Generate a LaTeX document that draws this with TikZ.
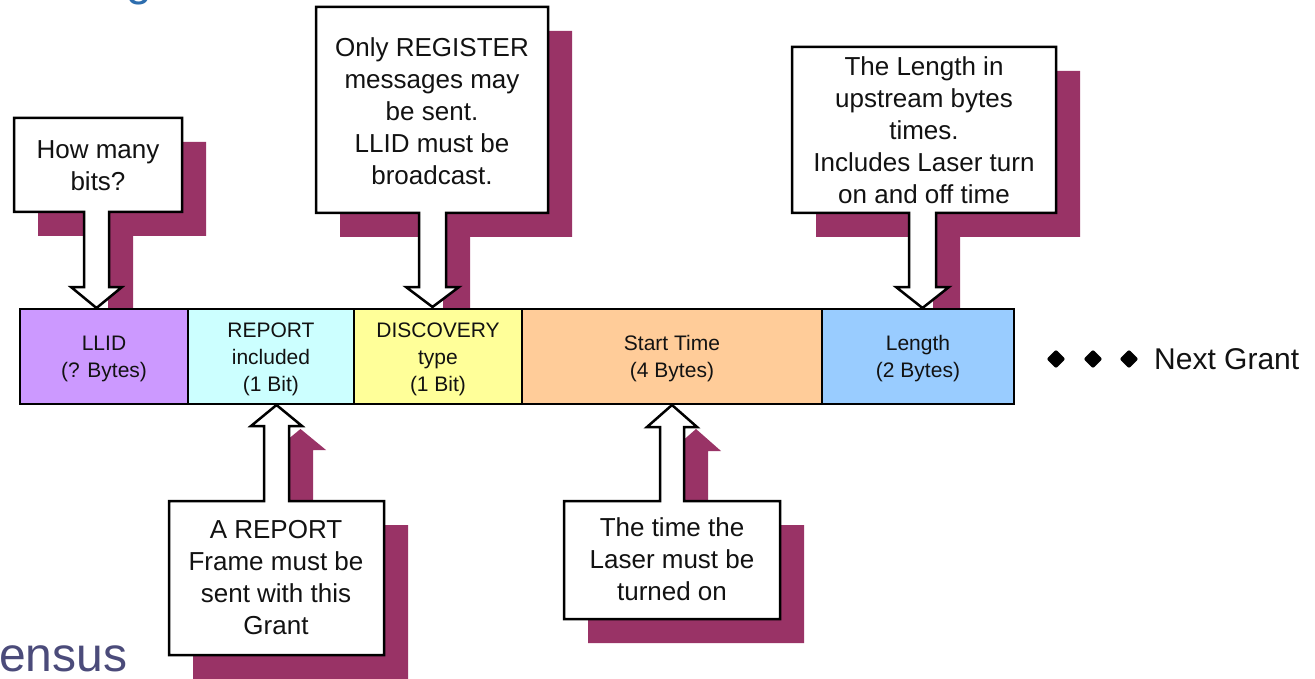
\documentclass[tikz,border=0pt]{standalone}
\usepackage{fontspec}
\setmainfont{Liberation Sans}
\usetikzlibrary{shapes.geometric}
\definecolor{shadowc}{HTML}{993366}
\definecolor{cllid}{HTML}{CC99FF}
\definecolor{creport}{HTML}{CCFFFF}
\definecolor{cdisc}{HTML}{FFFF99}
\definecolor{cstart}{HTML}{FFCC99}
\definecolor{clength}{HTML}{99CCFF}
\definecolor{titleblue}{HTML}{2D6DAE}
\definecolor{footgray}{HTML}{4B4B7A}
\newcommand\mycallout[9]{%
  \pgfmathsetmacro\hA{#6-13}\pgfmathsetmacro\hB{#7+13}\pgfmathsetmacro\tX{(#6+#7)/2}%
  \draw[#1] (#2,#4) -- (#6,#4) -- (#6,#8) -- (\hA,#8) -- (\tX,#9) -- (\hB,#8) -- (#7,#8) -- (#7,#4) -- (#3,#4) -- (#3,#5) -- (#2,#5) -- cycle;}
\tikzset{
  shadowshape/.style={fill=shadowc, draw=none, shift={(24,24)}},
  mainshape/.style={fill=white, draw=black, line width=2.5pt, line join=miter},
  calltext/.style={align=center, inner sep=0pt, font=\fontsize{26}{32}\selectfont, text=black!93},
  cell/.style={draw=black, line width=2.5pt, anchor=north west, minimum height=95pt, inner sep=0pt, outer sep=0pt},
  celltext/.style={align=center, inner sep=0pt, font=\fontsize{21}{27}\selectfont, text=black!93},
  dot/.style={diamond, fill=black, draw=none, minimum size=19pt, inner sep=0pt, rounded corners=2pt}
}
\begin{document}
\begin{tikzpicture}[x=1pt, y=-1pt]
\useasboundingbox (0,0) rectangle (1315,679);
\clip (0,0) rectangle (1315,679);
% partial title and footer text
\node[anchor=base west, inner sep=0pt, font=\fontsize{46}{55}\selectfont, text=titleblue] (title) at (126,-4) {g};
\node[anchor=base west, inner sep=0pt, font=\fontsize{48}{57}\selectfont, text=footgray] (foot) at (-1,671) {ensus};
% shadows
\mycallout{shadowshape}{14}{182}{212}{118}{84}{109}{287}{308}
\mycallout{shadowshape}{316}{548}{213}{7}{419}{446}{287}{307}
\mycallout{shadowshape}{792}{1056}{213}{47}{909}{936}{287}{308}
\mycallout{shadowshape}{169}{384}{501}{655}{264}{289}{426}{405}
\mycallout{shadowshape}{564}{780}{501}{619}{660}{684}{427}{405}
% callouts
\mycallout{mainshape}{14}{182}{212}{118}{84}{109}{287}{308}
\mycallout{mainshape}{316}{548}{213}{7}{419}{446}{287}{307}
\mycallout{mainshape}{792}{1056}{213}{47}{909}{936}{287}{308}
\mycallout{mainshape}{169}{384}{501}{655}{264}{289}{426}{405}
\mycallout{mainshape}{564}{780}{501}{619}{660}{684}{427}{405}
\node[calltext] (t1) at (98,166) {How many\\bits?};
\node[calltext] (t2) at (432,111) {Only REGISTER\\messages may\\be sent.\\LLID must be\\broadcast.};
\node[calltext] (t3) at (924,130) {The Length in\\upstream bytes\\times.\\Includes Laser turn\\on and off time};
\node[calltext] (t4) at (276,578) {A REPORT\\Frame must be\\sent with this\\Grant};
\node[calltext] (t5) at (672,559) {The time the\\Laser must be\\turned on};
% bar
\node[cell, fill=cllid, minimum width=168pt] (llid) at (20,309) {};
\node[cell, fill=creport, minimum width=166pt] (report) at (188,309) {};
\node[cell, fill=cdisc, minimum width=168pt] (disc) at (354,309) {};
\node[cell, fill=cstart, minimum width=300pt] (start) at (522,309) {};
\node[cell, fill=clength, minimum width=192pt] (length) at (822,309) {};
\node[celltext] (llidt) at ([yshift=-2.5pt]llid.center) {LLID\\(? Bytes)};
\node[celltext] (reportt) at ([yshift=-2.5pt]report.center) {REPORT\\included\\(1 Bit)};
\node[celltext] (disct) at ([yshift=-2.5pt]disc.center) {DISCOVERY\\type\\(1 Bit)};
\node[celltext] (startt) at ([yshift=-2.5pt]start.center) {Start Time\\(4 Bytes)};
\node[celltext] (lengtht) at ([yshift=-2.5pt]length.center) {Length\\(2 Bytes)};
% next grant
\node[dot] (d1) at (1056,359) {};
\node[dot] (d2) at (1093,359) {};
\node[dot] (d3) at (1129,359) {};
\node[anchor=west, inner sep=0pt, font=\fontsize{30}{36}\selectfont, text=black!93] (next) at (1154,359) {Next Grant};
\end{tikzpicture}
\end{document}
